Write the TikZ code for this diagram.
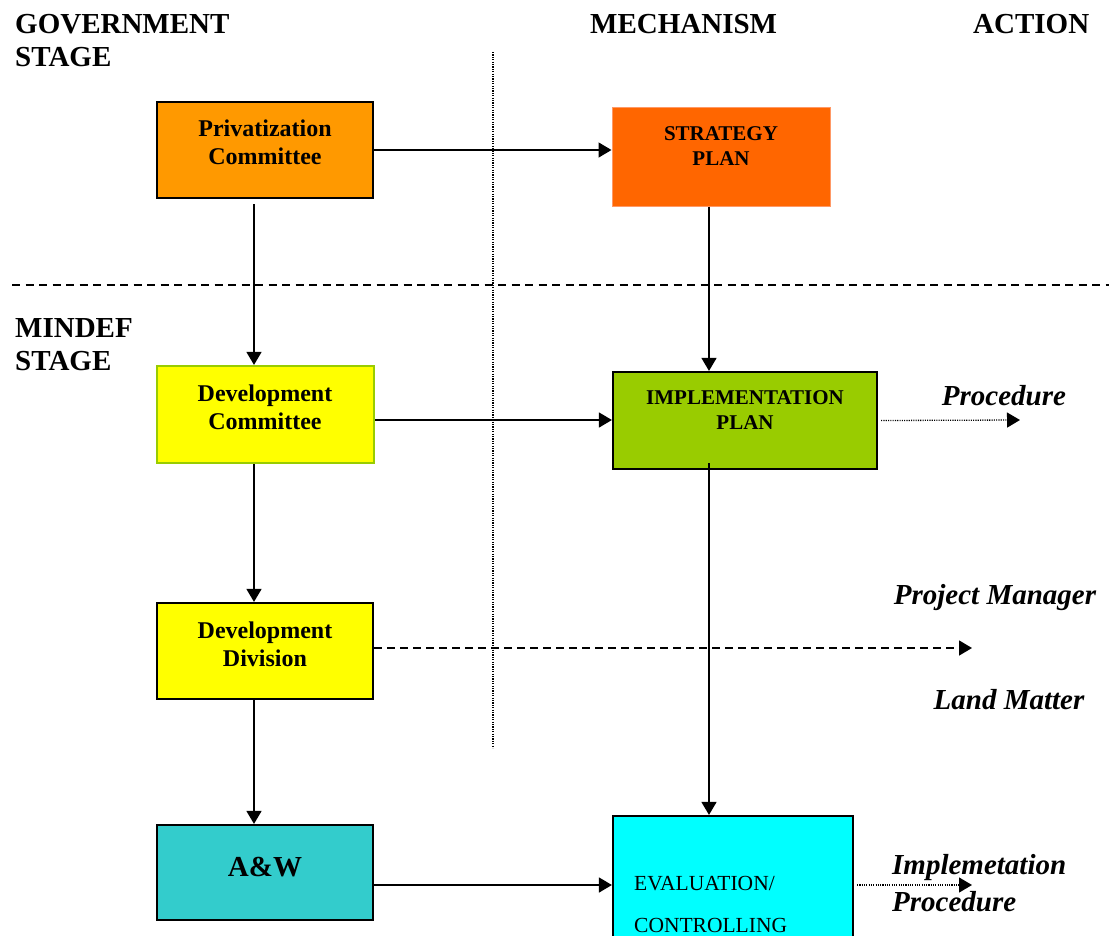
\documentclass[tikz,border=0pt]{standalone}
\usepackage{fontspec}
\setmainfont{Liberation Serif}
\usetikzlibrary{arrows.meta}
\definecolor{privorange}{HTML}{FF9900}
\definecolor{stratorange}{HTML}{FF6600}
\definecolor{stratedge}{HTML}{FF9966}
\definecolor{devyellow}{HTML}{FFFF00}
\definecolor{implgreen}{HTML}{99CC00}
\definecolor{awteal}{HTML}{33CCCC}
\definecolor{evalcyan}{HTML}{00FFFF}
\begin{document}
\begin{tikzpicture}[x=1pt,y=-1pt,
  box/.style={draw=black,line width=2.2pt,inner sep=0pt},
  boxtext/.style={inner sep=0pt,align=center,font=\fontsize{24}{28}\selectfont\bfseries},
  smalltext/.style={inner sep=0pt,align=center,font=\fontsize{21}{25}\selectfont\bfseries},
  heading/.style={inner sep=0pt,align=left,anchor=north west,font=\fontsize{29}{33}\selectfont\bfseries},
  sidelabel/.style={inner sep=0pt,font=\fontsize{29}{33}\selectfont\bfseries\itshape},
  tip/.style={-{Triangle[length=13pt,width=15pt]}},
  arr/.style={line width=1.5pt,tip},
  dotarr/.style={line width=1.3pt,dash pattern=on 1.1pt off 1.2pt,tip},
  dasharr/.style={line width=1.5pt,dash pattern=on 8pt off 5pt,tip}]
\useasboundingbox (0,0) rectangle (1109,935);
\clip (0,0) rectangle (1109,935);

% stage separators
\draw[line width=1.4pt,dash pattern=on 1.2pt off 1.2pt] (493,52) -- (493,748);
\draw[line width=1.4pt,dash pattern=on 8pt off 5.5pt] (12,285) -- (1109,285);

% column and stage headings
\node[heading] (govhead) at (15,14) {GOVERNMENT\\STAGE};
\node[heading] (mindefhead) at (15,318) {MINDEF\\STAGE};
\node[heading] (mechhead) at (590,14) {MECHANISM};
\node[heading] (acthead) at (973,14) {ACTION};

% boxes
\node[box,fill=privorange,minimum width=216pt,minimum height=96pt] (priv) at (265,150) {};
\node[box,draw=stratedge,line width=1pt,fill=stratorange,minimum width=218pt,minimum height=99pt] (strat) at (721,156.5) {};
\node[box,draw=implgreen,fill=devyellow,minimum width=217pt,minimum height=97pt] (devcom) at (265.5,414.5) {};
\node[box,fill=implgreen,minimum width=264pt,minimum height=97pt] (impl) at (745,420.5) {};
\node[box,fill=devyellow,minimum width=216pt,minimum height=96pt] (devdiv) at (265,651) {};
\node[box,fill=awteal,minimum width=216pt,minimum height=95pt] (aw) at (265,872.5) {};
\node[box,fill=evalcyan,minimum width=240pt,minimum height=144pt] (eval) at (733,888) {};

% box texts
\node[boxtext] (privtext) at (265,142) {Privatization\\Committee};
\node[smalltext] (strattext) at (721,146.5) {STRATEGY\\PLAN};
\node[boxtext] (devcomtext) at (265,407) {Development\\Committee};
\node[smalltext] (impltext) at (745,410.5) {IMPLEMENTATION\\PLAN};
\node[boxtext] (devdivtext) at (265,644) {Development\\Division};
\node[inner sep=0pt,font=\fontsize{29}{33}\selectfont\bfseries] (awtext) at (265,867) {A\&W};
\node[inner sep=0pt,anchor=base west,font=\fontsize{21.5}{25}\selectfont] (evaltext1) at (634,890) {EVALUATION/};
\node[inner sep=0pt,anchor=base west,font=\fontsize{21.5}{25}\selectfont] (evaltext2) at (634,932) {CONTROLLING};

% free ends of the action arrows
\coordinate (procend) at (1020,420);
\coordinate (pmend) at (972,648);
\coordinate (implprocend) at (972,885);

% connectors
\draw[arr] (priv.east) -- (priv.east -| strat.west);
\draw[arr] ([xshift=-12pt]strat.south) -- ([xshift=-12pt]strat.south |- impl.north);
\draw[arr] ([xshift=-11pt,yshift=-5pt]priv.south) -- ([xshift=-11pt]priv.south |- devcom.north);
\draw[arr] ([yshift=-5.5pt]devcom.east) -- ([yshift=-5.5pt]devcom.east -| impl.west);
\draw[arr] ([xshift=-11.5pt]devcom.south) -- ([xshift=-11.5pt]devcom.south |- devdiv.north);
\draw[arr] ([xshift=-11pt]devdiv.south) -- ([xshift=-11pt]devdiv.south |- aw.north);
\draw[arr] ([xshift=-36pt,yshift=7pt]impl.south) -- ([xshift=-36pt]impl.south |- eval.north);
\draw[arr] ([yshift=-12.5pt]aw.east) -- ([yshift=-12.5pt]aw.east -| eval.west);

% action arrows
\draw[dotarr] ([xshift=3pt]impl.east) -- (procend);
\draw[dasharr] ([yshift=3pt]devdiv.east) -- (pmend);
\draw[dotarr] ([xshift=3pt,yshift=3pt]eval.east) -- (implprocend);

% action labels
\node[sidelabel] (proclabel) at (1004,396) {Procedure};
\node[sidelabel] (pmlabel) at (995,598) {Project Manager};
\node[sidelabel] (landlabel) at (1009,700) {Land Matter};
\node[sidelabel,anchor=west] (implproclabel1) at (892,868) {Implemetation};
\node[sidelabel,anchor=west] (implproclabel2) at (892,902) {Procedure};
\end{tikzpicture}
\end{document}
